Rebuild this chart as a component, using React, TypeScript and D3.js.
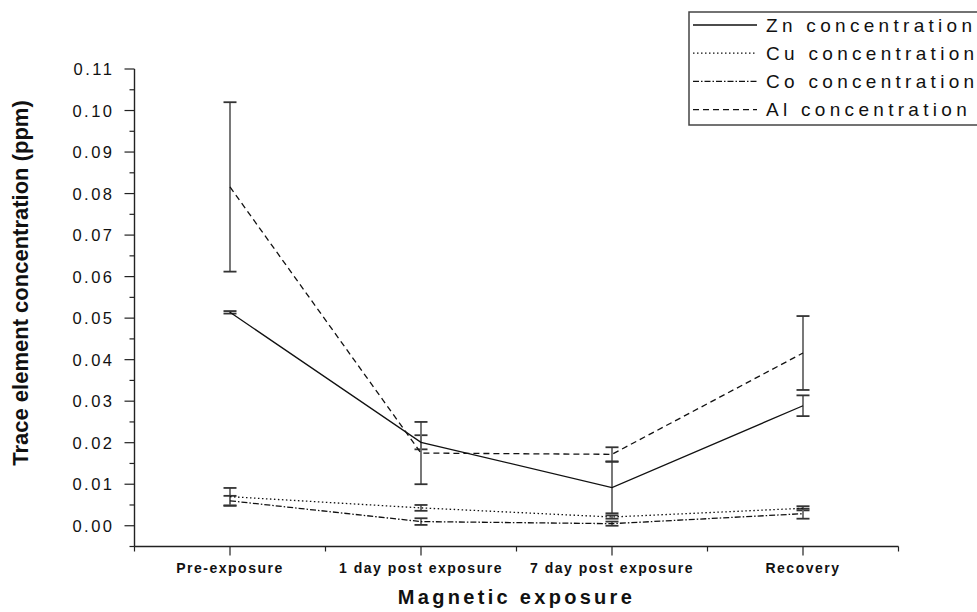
import React from "react";
import * as d3 from "d3";

// Sampling points along the x axis
const categories = ["Pre-exposure", "1 day post exposure", "7 day post exposure", "Recovery"];

// Mean concentrations (ppm) and their error half-widths
const zn = [0.0514, 0.0201, 0.0092, 0.0289];
const znErr = [0.0003, 0.0017, 0.0062, 0.0025];
const cu = [0.007, 0.0043, 0.0021, 0.0042];
const cuErr = [0.0021, 0.0007, 0.0004, 0.0005];
const co = [0.006, 0.001, 0.0005, 0.0029];
const coErr = [0.0012, 0.0008, 0.0005, 0.0012];
const al = [0.0816, 0.0175, 0.0172, 0.0416];
const alErr = [0.0204, 0.0075, 0.0017, 0.0089];

const yMajorTicks = [0, 0.01, 0.02, 0.03, 0.04, 0.05, 0.06, 0.07, 0.08, 0.09, 0.1, 0.11];
const yTickLabels = ["0.00", "0.01", "0.02", "0.03", "0.04", "0.05", "0.06", "0.07", "0.08", "0.09", "0.10", "0.11"];

const seriesNames = ["Zn concentration", "Cu concentration", "Co concentration", "Al concentration"];

const W = 977;
const H = 612;
const FONT = "'Liberation Sans', Arial, Helvetica, sans-serif";

const series = [
  { name: seriesNames[0], values: zn, errs: znErr, dash: "none" },
  { name: seriesNames[1], values: cu, errs: cuErr, dash: "1.5,2.5" },
  { name: seriesNames[2], values: co, errs: coErr, dash: "6,2,1.5,2" },
  { name: seriesNames[3], values: al, errs: alErr, dash: "6,4" },
];

export default function App() {
  const x = d3.scaleBand<string>().domain(categories).range([134.5, 898.5]).padding(0);
  const y = d3.scaleLinear().domain([-0.005, 0.11]).range([546.5, 69]);
  const cx = (c: string) => (x(c) as number) + x.bandwidth() / 2;
  const x0 = x.range()[0];
  const x1 = x.range()[1];
  const yBottom = y.range()[0];
  const yTop = y.range()[1];

  const yMinor = d3.range(-0.005, 0.11, 0.01).map((v) => +v.toFixed(4));
  const xBounds = categories.map((c) => x(c) as number).concat([x1]);

  const line = d3
    .line<number>()
    .x((_, i) => cx(categories[i]))
    .y((v) => y(v));

  const capHalf = 6.5;
  const axisColor = "#222";

  return (
    <div style={{ position: "fixed", left: 0, top: 0, width: W, height: H, background: "#fff" }}>
      <svg width={W} height={H} style={{ display: "block" }} fontFamily={FONT}>
        <rect x={0} y={0} width={W} height={H} fill="#fff" />

        {/* Error bars */}
        {series.map((s) =>
          s.values.map((v, i) => {
            const px = cx(categories[i]);
            const hi = y(v + s.errs[i]);
            const lo = y(v - s.errs[i]);
            return (
              <g key={s.name + i}>
                <line x1={px} x2={px} y1={hi} y2={lo} stroke="#6a6a6a" strokeWidth={1.8} />
                <line x1={px - capHalf} x2={px + capHalf} y1={hi} y2={hi} stroke="#333" strokeWidth={1.8} />
                <line x1={px - capHalf} x2={px + capHalf} y1={lo} y2={lo} stroke="#333" strokeWidth={1.8} />
              </g>
            );
          })
        )}

        {/* Series lines */}
        {series.map((s) => (
          <path
            key={s.name}
            d={line(s.values) as string}
            fill="none"
            stroke="#111"
            strokeWidth={1.3}
            strokeDasharray={s.dash}
          />
        ))}

        {/* Y axis */}
        <line x1={x0} x2={x0} y1={yTop} y2={yBottom} stroke={axisColor} strokeWidth={1.4} />
        {yMajorTicks.map((t, i) => (
          <g key={"ym" + i}>
            <line x1={x0 - 10} x2={x0} y1={y(t)} y2={y(t)} stroke={axisColor} strokeWidth={1.2} />
            <text
              x={x0 - 20}
              y={y(t)}
              textAnchor="end"
              dominantBaseline="central"
              fontSize={16.5}
              letterSpacing={2.5}
              fill="#111"
            >
              {yTickLabels[i]}
            </text>
          </g>
        ))}
        {yMinor.map((t, i) => (
          <line key={"yn" + i} x1={x0 - 5} x2={x0} y1={y(t)} y2={y(t)} stroke={axisColor} strokeWidth={1.2} />
        ))}

        {/* X axis */}
        <line x1={x0} x2={x1} y1={yBottom} y2={yBottom} stroke={axisColor} strokeWidth={1.4} />
        {xBounds.map((b, i) => (
          <line key={"xb" + i} x1={b} x2={b} y1={yBottom} y2={yBottom + 5} stroke={axisColor} strokeWidth={1.2} />
        ))}
        {categories.map((c) => (
          <g key={c}>
            <line x1={cx(c)} x2={cx(c)} y1={yBottom} y2={yBottom + 9} stroke={axisColor} strokeWidth={1.2} />
            <text
              x={cx(c)}
              y={573}
              textAnchor="middle"
              fontSize={14}
              fontWeight="bold"
              letterSpacing={1.5}
              fill="#111"
            >
              {c}
            </text>
          </g>
        ))}

        {/* Axis titles */}
        <text
          x={(x0 + x1) / 2}
          y={604}
          textAnchor="middle"
          fontSize={20}
          fontWeight="bold"
          letterSpacing={3.3}
          fill="#111"
        >
          Magnetic exposure
        </text>
        <text
          transform={`translate(28, 283) rotate(-90)`}
          textAnchor="middle"
          fontSize={22}
          fontWeight="bold"
          fill="#111"
        >
          Trace element concentration (ppm)
        </text>

        {/* Legend */}
        <rect x={689} y={12} width={300} height={113} fill="#fff" stroke="#444" strokeWidth={1.5} />
        {series.map((s, i) => {
          const ly = 25 + i * 28.2;
          return (
            <g key={"lg" + s.name}>
              <line x1={693} x2={757} y1={ly} y2={ly} stroke="#111" strokeWidth={1.3} strokeDasharray={s.dash} />
              <text x={766} y={ly} dominantBaseline="central" fontSize={19} letterSpacing={4.3} fill="#111">
                {s.name}
              </text>
            </g>
          );
        })}
      </svg>
    </div>
  );
}
